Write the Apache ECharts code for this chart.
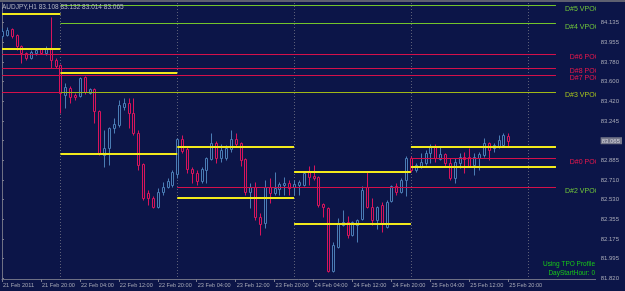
<!DOCTYPE html>
<html><head><meta charset="utf-8">
<script src="https://cdn.jsdelivr.net/npm/echarts@6/dist/echarts.min.js"></script>
<style>html,body{margin:0;padding:0;background:#0d174c;overflow:hidden}#c{width:625px;height:291px}</style>
</head><body><div id="c"></div><script>
// AUDJPY H1, bars from 21 Feb 2011 12:00 to 25 Feb 2011 20:00
const opens = [84.015,84.024,84.078,84.024,83.924,83.860,83.815,83.860,83.897,83.860,
83.897,83.797,83.752,83.480,83.543,83.480,83.470,83.643,83.498,83.534,
83.335,82.936,82.999,83.180,83.208,83.371,83.407,83.316,83.135,82.854,
82.591,82.546,82.464,82.600,82.645,82.663,82.763,83.081,82.990,82.809,
82.772,82.700,82.799,82.899,83.044,82.908,82.908,82.990,83.081,83.044,
82.899,82.600,82.645,82.373,82.319,82.645,82.591,82.627,82.663,82.682,
82.645,82.663,82.663,82.781,82.745,82.736,82.491,82.455,81.884,82.101,
82.301,82.328,82.210,82.301,82.355,82.645,82.464,82.346,82.482,82.283,
82.518,82.654,82.600,82.709,82.908,82.799,82.827,82.863,82.954,83.017,
82.899,82.945,82.863,82.727,82.863,82.917,82.917,82.845,82.908,82.936,
83.044,82.999,83.008,83.026,83.108];
const highs = [84.087,84.096,84.087,84.033,83.933,83.869,83.888,83.906,83.906,83.924,
84.187,83.815,83.761,83.588,83.561,83.498,83.643,83.652,83.543,83.543,
83.344,83.162,83.189,83.271,83.434,83.452,83.452,83.452,83.162,82.863,
82.618,82.564,82.636,82.691,82.727,82.799,83.090,83.117,83.008,82.827,
82.799,82.827,82.917,83.135,83.062,83.035,83.026,83.162,83.135,83.053,
82.908,82.682,82.691,82.410,82.709,82.727,82.781,82.691,82.736,82.709,
82.709,82.709,82.781,82.836,82.845,82.745,82.500,82.464,82.147,82.364,
82.437,82.382,82.337,82.355,82.654,82.781,82.546,82.473,82.509,82.527,
82.663,82.682,82.727,82.926,82.926,82.863,82.954,82.981,83.035,83.035,
83.008,82.954,82.908,82.908,82.954,82.963,82.999,82.954,82.963,83.090,
83.053,83.044,83.117,83.135,83.132];
const lows = [83.996,84.015,83.996,83.888,83.770,83.797,83.806,83.842,83.851,83.842,
83.724,83.724,83.316,83.362,83.407,83.434,83.461,83.489,83.489,83.226,
82.936,82.827,82.845,83.135,83.189,83.344,83.180,83.117,82.799,82.527,
82.482,82.455,82.455,82.573,82.636,82.645,82.727,82.954,82.772,82.682,
82.663,82.682,82.682,82.890,82.863,82.872,82.890,82.963,83.008,82.836,
82.573,82.455,82.346,82.210,82.274,82.500,82.573,82.573,82.573,82.573,
82.573,82.573,82.654,82.663,82.709,82.464,82.373,81.875,81.875,82.092,
82.292,82.183,82.201,82.147,82.346,82.455,82.301,82.265,82.237,82.274,
82.509,82.573,82.591,82.564,82.781,82.781,82.818,82.845,82.863,82.872,
82.890,82.827,82.709,82.682,82.818,82.772,82.827,82.754,82.799,82.917,
82.890,82.963,82.999,83.008,83.014];
const closes = [84.060,84.069,84.015,83.924,83.860,83.815,83.869,83.888,83.860,83.906,
83.797,83.743,83.498,83.552,83.461,83.461,83.634,83.507,83.534,83.335,
82.945,82.999,83.180,83.217,83.389,83.407,83.316,83.135,82.845,82.546,
82.546,82.464,82.600,82.645,82.700,82.781,83.081,82.972,82.809,82.772,
82.700,82.809,82.908,83.044,82.908,82.981,82.999,83.081,83.035,82.890,
82.600,82.645,82.373,82.310,82.645,82.591,82.636,82.673,82.682,82.636,
82.673,82.691,82.772,82.736,82.727,82.482,82.464,81.884,82.119,82.319,
82.328,82.210,82.328,82.346,82.618,82.464,82.346,82.464,82.319,82.509,
82.654,82.600,82.709,82.908,82.799,82.845,82.872,82.954,83.017,82.908,
82.945,82.863,82.727,82.872,82.917,82.899,82.836,82.917,82.945,83.044,
82.981,83.026,83.071,83.117,83.065];

const xTickBars = [0,8,16,24,32,40,48,56,64,72,80,88,96,104];
const xTickLabels = ['21 Feb 2011','21 Feb 20:00','22 Feb 04:00','22 Feb 12:00','22 Feb 20:00',
  '23 Feb 04:00','23 Feb 12:00','23 Feb 20:00','24 Feb 04:00','24 Feb 12:00','24 Feb 20:00',
  '25 Feb 04:00','25 Feb 12:00','25 Feb 20:00'];
const yTickValues = [84.135,83.955,83.780,83.600,83.420,83.245,83.065,82.885,82.710,82.530,82.355,82.175,81.995,81.820];
const currentPrice = 83.065;
const daySeparators = [12,36,60,84,108];

// [fromBar, toBar, price]
const valueAreaLines = [[0,12,84.214],[0,12,83.894],[12,36,83.676],[12,36,82.944],
  [36,60,83.006],[36,60,82.543],[60,84,82.784],[60,84,82.314],[84,113.8,83.006],[84,113.8,82.824]];
const pocLines = [[0,113.8,83.851],[0,113.8,83.727],[0,113.8,83.664],[0,12,83.509],
  [36,113.8,82.643],[84,113.8,82.906]];
const vpocLines = [[12,113.8,84.293],[12,113.8,84.130]];
const vpoc3Lines = [[12,113.8,83.509]];
// [text, price, colour group]
const lineLabels = [['D#5 VPOC',84.293,'g'],['D#4 VPOC',84.130,'g'],['D#6 POC',83.851,'r'],
  ['D#8 POC',83.727,'r'],['D#7 POC',83.664,'r'],['D#3 VPOC',83.509,'y'],['D#0 POC',82.906,'r'],
  ['D#2 VPOC',82.643,'g']];

const BG = '#0c1548';
const BULL = '#4a7cb4';
const BEAR = '#d8145c';
const labelColors = {g:'#72c83a', r:'#f0184c', y:'#a8c41c'};
const X_MIN = 0, X_MAX = 121.95, Y_MIN = 81.811, Y_MAX = 84.314;

const candleData = opens.map((o,i)=>[i,o,closes[i],lows[i],highs[i]]);

function candleItem(params, api){
  const i = api.value(0), o = api.value(1), c = api.value(2), l = api.value(3), h = api.value(4);
  const pO = api.coord([i,o]), pC = api.coord([i,c]), pL = api.coord([i,l]), pH = api.coord([i,h]);
  const col = c >= o ? BULL : BEAR;
  const cx = Math.round(pO[0]);
  const top = Math.round(Math.min(pO[1],pC[1])) + 0.5;
  const bot = Math.round(Math.max(pO[1],pC[1])) + 0.5;
  const children = [{
    type:'line', shape:{x1:cx+0.5,y1:Math.round(pH[1])+0.5,x2:cx+0.5,y2:Math.round(pL[1])+0.5},
    style:{stroke:col,lineWidth:1}
  }];
  if (bot - top < 1) {
    children.push({type:'line',shape:{x1:cx-1,y1:top,x2:cx+2,y2:top},style:{stroke:col,lineWidth:1}});
  } else {
    children.push({type:'rect',shape:{x:cx-0.5,y:top,width:2,height:bot-top},style:{fill:BG,stroke:col,lineWidth:1}});
  }
  return {type:'group',children};
}
function segItem(color, width){
  return function(params, api){
    const a = api.coord([api.value(0), api.value(2)]);
    const b = api.coord([api.value(1), api.value(2)]);
    const y = width % 2 ? Math.round(a[1]) + 0.5 : Math.round(a[1]);
    return {type:'line',shape:{x1:a[0],y1:y,x2:b[0],y2:y},style:{stroke:color,lineWidth:width}};
  };
}
function sepItem(params, api){
  const a = api.coord([api.value(0), Y_MAX]);
  const b = api.coord([api.value(0), Y_MIN]);
  const x = Math.round(a[0]) + 0.5;
  return {type:'line',shape:{x1:x,y1:a[1],x2:x,y2:b[1]},style:{stroke:'#5c5f78',lineWidth:1,lineDash:[1,2]}};
}
function labelItem(params, api){
  const d = lineLabels[params.dataIndex];
  const p = api.coord([X_MAX, api.value(0)]);
  return {type:'text',x:p[0]+4,y:p[1]+3.5,style:{text:d[0],fill:labelColors[d[2]],
    font:'7px "Liberation Sans", Arial, sans-serif',align:'right',verticalAlign:'middle'}};
}
const segData = arr => arr.map(d=>[d[0],d[1],d[2]]);

const chart = echarts.init(document.getElementById('c'), null, {renderer:'canvas'});
chart.setOption({
  backgroundColor: BG,
  animation: false,
  grid: {left:1, right:24, top:3, bottom:12},
  xAxis: {
    type:'value', min:X_MIN, max:X_MAX, splitLine:{show:false},
    axisLine:{show:true, lineStyle:{color:'#6e7084'}},
    axisTick:{show:true, length:3, customValues:xTickBars, lineStyle:{color:'#7a7c90'}},
    axisLabel:{customValues:xTickBars, color:'#a4a6b4', fontSize:5.6, fontFamily:'"Liberation Sans", Arial, sans-serif',
      align:'left', margin:3, padding:[0,0,0,1],
      formatter: v => xTickLabels[xTickBars.indexOf(Math.round(v))] || ''}
  },
  yAxis: {
    type:'value', position:'right', min:Y_MIN, max:Y_MAX, splitLine:{show:false},
    axisLine:{show:true, lineStyle:{color:'#6e7084'}},
    axisTick:{show:true, length:2, customValues:yTickValues, lineStyle:{color:'#7a7c90'}},
    axisLabel:{customValues:yTickValues, color:'#a4a6b4', fontSize:6, margin:5,
      fontFamily:'"Liberation Sans", Arial, sans-serif',
      formatter: v => Math.abs(v-currentPrice) < 1e-6 ? '{cur|' + v.toFixed(3) + '}' : v.toFixed(3),
      rich:{cur:{backgroundColor:'#75778a', color:'#d4d4dc', fontSize:6, padding:[1,2,0,1],
        fontFamily:'"Liberation Sans", Arial, sans-serif'}}}
  },
  series: [
    {type:'custom', name:'separators', renderItem:sepItem, data:daySeparators.map(b=>[b]), z:1, silent:true},
    {type:'custom', name:'candles', renderItem:candleItem, data:candleData, z:2, clip:true,
      encode:{x:0, y:[1,2,3,4]}},
    {type:'custom', name:'poc', renderItem:segItem('#d4104a',1), data:segData(pocLines), z:3, clip:true, encode:{x:[0,1], y:2}},
    {type:'custom', name:'vpoc', renderItem:segItem('#74c42c',1), data:segData(vpocLines), z:3, clip:true, encode:{x:[0,1], y:2}},
    {type:'custom', name:'vpoc3', renderItem:segItem('#a2b816',1), data:segData(vpoc3Lines), z:3, clip:true, encode:{x:[0,1], y:2}},
    {type:'custom', name:'va', renderItem:segItem('#f2ea1c',2), data:segData(valueAreaLines), z:4, clip:true, encode:{x:[0,1], y:2}},
    {type:'custom', name:'labels', renderItem:labelItem, data:lineLabels.map(d=>[d[1]]), z:5, clip:true, encode:{y:0}}
  ],
  graphic: [
    {type:'rect', left:0, top:0, shape:{width:625, height:2}, style:{fill:'#5e6070'}, z:10},
    {type:'text', x:2, y:7, style:{text:'AUDJPY,H1 83.108 83.132 83.014 83.065', fill:'#b4b6c2',
      font:'6.5px "Liberation Sans", Arial, sans-serif', verticalAlign:'middle'}, z:10},
    {type:'text', x:595, y:264, style:{text:'Using TPO Profile', fill:'#18c818',
      font:'6.5px "Liberation Sans", Arial, sans-serif', align:'right', verticalAlign:'middle'}, z:10},
    {type:'text', x:595, y:273, style:{text:'DayStartHour: 0', fill:'#18c818',
      font:'6.5px "Liberation Sans", Arial, sans-serif', align:'right', verticalAlign:'middle'}, z:10}
  ]
});
</script></body></html>
